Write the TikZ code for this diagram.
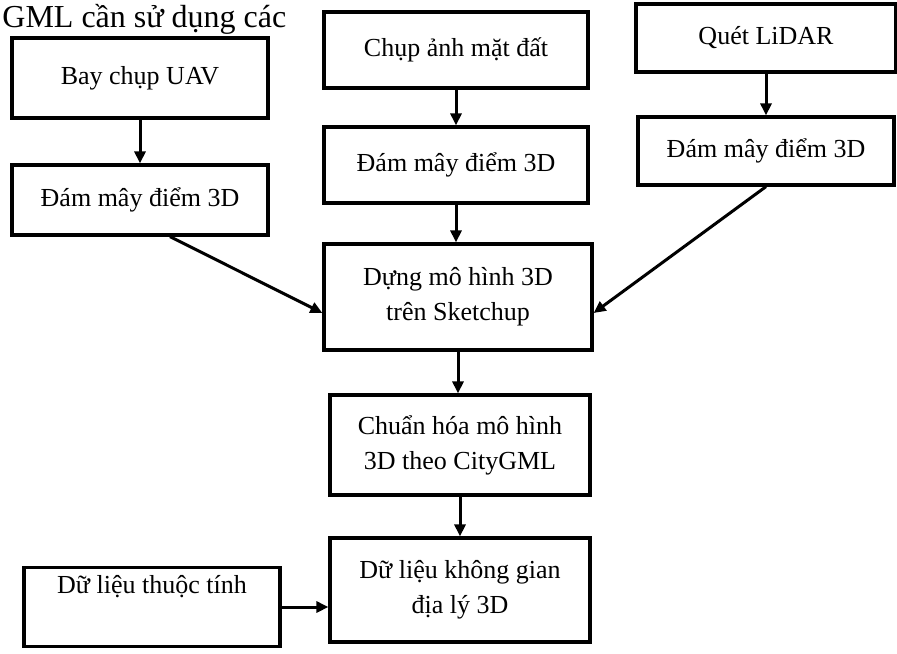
\documentclass[tikz,border=0pt]{standalone}
\usepackage{fontspec}
\setmainfont{Liberation Serif}
\usetikzlibrary{arrows.meta}

\tikzset{
	hop/.style={draw, line width=1.6pt, minimum width=128pt, minimum height=36pt,
		align=center, font=\fontsize{13}{17.5}\selectfont, inner sep=3pt},
	muiten/.style={line width=1.5pt, -{Triangle[length=6pt, width=5.5pt]}}
}

\begin{document}
\begin{tikzpicture}[x=0.5pt, y=-0.5pt]
		\useasboundingbox (0, 0) rectangle (897, 653);

		\node[anchor=base west, font=\fontsize{16}{19}\selectfont, inner sep=0pt] (dong) at (2, 27) {GML cần sử dụng các};

		% ba nguon du lieu
		\node[hop, minimum height=40pt] (uav) at (140, 78) {Bay chụp UAV};
		\node[hop, minimum width=132pt, minimum height=38pt] (anh) at (456, 50) {Chụp ảnh mặt đất};
		\node[hop, minimum width=130pt, minimum height=34pt] (lidar) at (766, 38) {Quét LiDAR};

		\node[hop, minimum height=35pt] (may1) at (140, 200) {Đám mây điểm 3D};
		\node[hop, minimum width=132pt, minimum height=38pt] (may2) at (456, 165) {Đám mây điểm 3D};
		\node[hop, minimum width=128pt, minimum height=34pt] (may3) at (766, 151) {Đám mây điểm 3D};

		\draw[muiten] (uav) -- (may1);
		\draw[muiten] (anh) -- (may2);
		\draw[muiten] (lidar) -- (may3);

		% mo hinh
		\node[hop, minimum width=134pt, minimum height=53pt] (dung) at (458, 297) {Dựng mô hình 3D\\trên Sketchup};
		\node[hop, minimum width=130pt, minimum height=50pt] (chuan) at (460, 445) {Chuẩn hóa mô hình\\3D theo CityGML};
		\node[hop, minimum width=130pt, minimum height=52pt] (khonggian) at (460, 590) {Dữ liệu không gian\\địa lý 3D};
		\node[hop, minimum width=128pt, inner sep=4pt] (thuoctinh) at (152, 607) {Dữ liệu thuộc tính\\ \strut};

		\draw[muiten] ([xshift=15pt]may1.south) -- ([yshift=-8pt]dung.west);
		\draw[muiten] (may2.south) -- (may2.south |- dung.north);
		\draw[muiten] (may3.south) -- ([yshift=-8pt]dung.east);
		\draw[muiten] (dung.south) -- (dung.south |- chuan.north);
		\draw[muiten] (chuan) -- (khonggian);
		\draw[muiten] (thuoctinh.east) -- (thuoctinh.east -| khonggian.west);
\end{tikzpicture}
\end{document}
